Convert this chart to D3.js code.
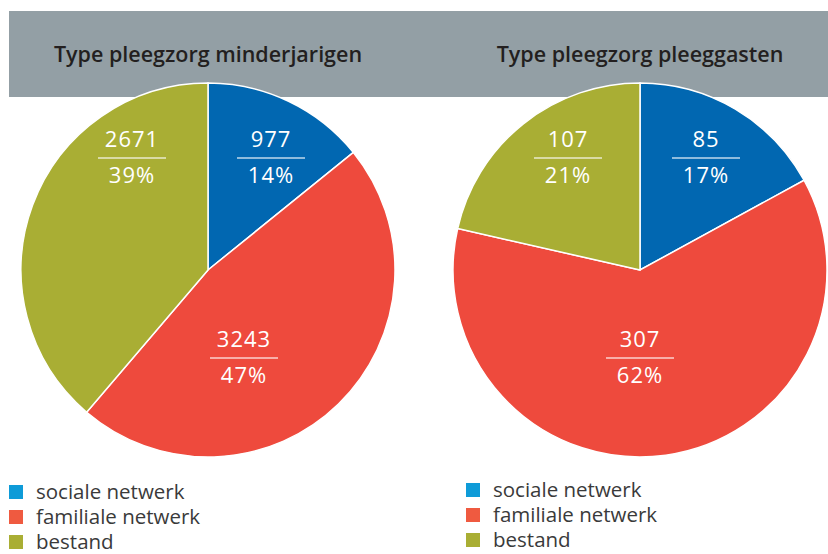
<!DOCTYPE html>
<html><head><meta charset="utf-8">
<script src="https://cdn.jsdelivr.net/npm/d3@7"></script>
<style>body{margin:0;background:#fff}svg{display:block}</style>
</head><body>
<svg id="c" width="828" height="554"></svg>
<script>
// ---- data ----
const categories = ["sociale netwerk", "familiale netwerk", "bestand"];
const titles = ["Type pleegzorg minderjarigen", "Type pleegzorg pleeggasten"];
const valuesMinderjarigen = [977, 3243, 2671];
const valuesPleeggasten = [85, 307, 107];
const pctMinderjarigen = ["14%", "47%", "39%"];
const pctPleeggasten = ["17%", "62%", "21%"];

// ---- layout / style ----
const pieColors = ["#0167b1", "#ee4a3d", "#a9ae34"];
const legendColors = ["#0e9bd8", "#ef5a40", "#a9ae34"];
const charts = [
  {title: titles[0], values: valuesMinderjarigen, pct: pctMinderjarigen, cx: 208, cy: 270,
   labelOff: [[63,-112],[36,88],[-76,-112]], legX: 9, legY: 485},
  {title: titles[1], values: valuesPleeggasten, pct: pctPleeggasten, cx: 640, cy: 270,
   labelOff: [[66,-112],[0,88],[-72,-112]], legX: 466, legY: 483}
];
const R = 187;
const font = "'Open Sans', Lato, sans-serif";

const svg = d3.select("#c");
svg.append("rect").attr("x", 9).attr("y", 11).attr("width", 819).attr("height", 86).attr("fill", "#939fa5");

const pie = d3.pie().sort(null).value(d => d);
const arc = d3.arc().innerRadius(0).outerRadius(R);

charts.forEach(ch => {
  svg.append("text").attr("x", ch.cx).attr("y", 62).attr("text-anchor", "middle")
    .attr("font-family", font).attr("font-weight", 600).attr("font-size", 21.5)
    .attr("fill", "#231f20").text(ch.title);

  const g = svg.append("g").attr("transform", `translate(${ch.cx},${ch.cy})`);
  g.selectAll("path").data(pie(ch.values)).join("path")
    .attr("d", arc).attr("fill", (d, i) => pieColors[i])
    .attr("stroke", "#fff").attr("stroke-width", 1.5);

  const lab = g.selectAll("g.lab").data(pie(ch.values)).join("g").attr("class", "lab")
    .attr("transform", (d, i) => `translate(${ch.labelOff[i][0]},${ch.labelOff[i][1]})`);
  lab.append("text").attr("y", -11).attr("text-anchor", "middle").attr("letter-spacing", 1)
    .attr("font-family", font).attr("font-size", 22).attr("fill", "#fff").text(d => d.data);
  lab.append("line").attr("x1", -34).attr("x2", 34).attr("y1", 0).attr("y2", 0)
    .attr("stroke", "rgba(255,255,255,0.75)").attr("stroke-width", 1.5);
  lab.append("text").attr("y", 25).attr("text-anchor", "middle").attr("letter-spacing", 1)
    .attr("font-family", font).attr("font-size", 22).attr("fill", "#fff").text((d, i) => ch.pct[i]);

  const leg = svg.append("g").attr("transform", `translate(${ch.legX},${ch.legY})`);
  const row = leg.selectAll("g").data(categories).join("g")
    .attr("transform", (d, i) => `translate(0,${i * 25})`);
  row.append("rect").attr("width", 14).attr("height", 14).attr("fill", (d, i) => legendColors[i]);
  row.append("text").attr("x", 27).attr("y", 14).attr("font-family", font).attr("font-size", 20.5)
    .attr("fill", "#3a3a3a").text(d => d);
});
</script>
</body></html>
